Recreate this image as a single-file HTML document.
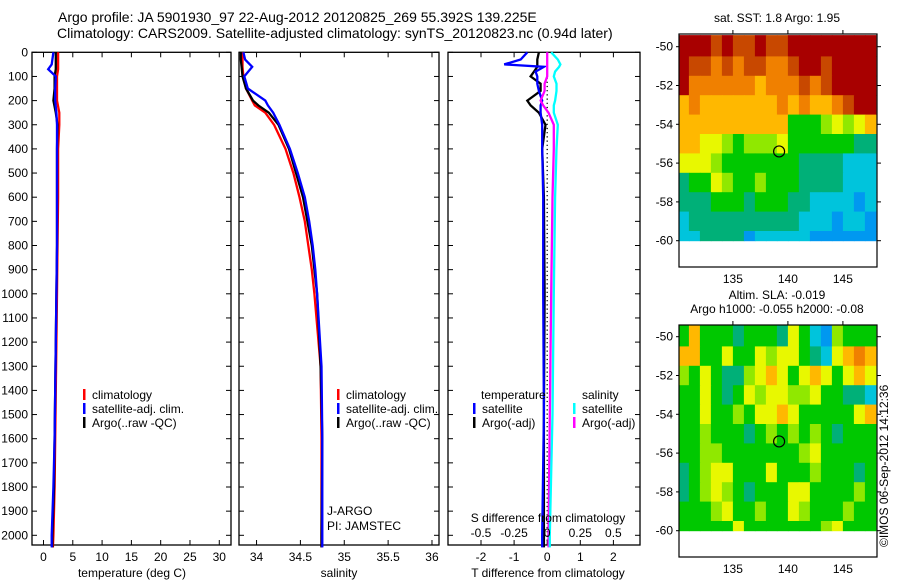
<!DOCTYPE html>
<html><head><meta charset="utf-8"><style>
html,body{margin:0;padding:0;background:#fff;}
svg{display:block;font-family:"Liberation Sans",sans-serif;}
</style></head><body>
<svg id="fig" width="900" height="580" viewBox="0 0 900 580" xmlns="http://www.w3.org/2000/svg">
<text x="58" y="22" font-size="14">Argo profile: JA 5901930_97 22-Aug-2012 20120825_269 55.392S 139.225E</text>
<text x="57" y="38" font-size="14">Climatology: CARS2009. Satellite-adjusted climatology: synTS_20120823.nc (0.94d later)</text>
<text x="777" y="22" font-size="12" text-anchor="middle">sat. SST: 1.8 Argo: 1.95</text>
<text x="777" y="299" font-size="12" text-anchor="middle">Altim. SLA: -0.019</text>
<text x="777" y="313" font-size="12" text-anchor="middle">Argo h1000: -0.055 h2000: -0.08</text>
<text transform="translate(888,547) rotate(-90)" font-size="12">©IMOS 06-Sep-2012 14:12:36</text>
<g id="plots"></g>
</svg>
<script>
// ---- profile data ----
const tDepths = [0,50,70,100,150,200,250,300,400,600,800,1000,1200,1400,1600,1800,2000,2050];
const tempClim = [2.5,2.5,2.5,2.3,2.3,2.3,2.7,2.7,2.5,2.5,2.4,2.3,2.2,2.1,2.0,1.9,1.7,1.6];
const tempSat  = [1.7,1.4,0.8,2.1,2.0,2.0,2.2,2.3,2.3,2.3,2.3,2.2,2.1,2.0,1.9,1.7,1.4,1.4];
const tempArgo = [2.1,2.1,2.1,1.9,1.9,1.7,2.1,2.4,2.3,2.3,2.3,2.2,2.1,2.0,1.9,1.8,1.5,1.5];
const sDepths = [0,30,60,100,150,200,220,250,300,400,500,600,700,800,900,1000,1300,1600,2000,2050];
const salClim = [33.84,33.84,33.84,33.85,33.88,33.95,33.98,34.1,34.2,34.33,34.42,34.49,34.55,34.59,34.63,34.66,34.73,34.74,34.74,34.74];
const salSat  = [33.85,33.87,33.95,33.86,33.9,34.1,34.13,34.19,34.26,34.38,34.47,34.55,34.6,34.64,34.67,34.69,34.74,34.75,34.75,34.75];
const salArgo = [33.82,33.82,33.83,33.84,33.88,33.96,34.02,34.14,34.25,34.37,34.45,34.53,34.58,34.63,34.66,34.69,34.73,34.75,34.74,34.74];
const dDepths = [0,30,50,60,80,100,130,160,200,220,250,300,400,600,1000,1500,2000,2050];
const dTSat  = [-0.6,-0.8,-1.3,-0.1,-0.35,-0.3,-0.3,-0.25,-0.15,-0.2,-0.2,-0.15,-0.15,-0.12,-0.12,-0.1,-0.15,-0.15];
const dTArgo = [-0.25,-0.3,-0.3,-0.3,-0.4,-0.5,-0.2,-0.2,-0.6,-0.5,-0.25,-0.05,-0.15,-0.1,-0.08,-0.1,-0.1,-0.1];
const dSSat  = [0.03,0.08,0.1,0.09,0.06,0.05,0.07,0.07,0.06,0.05,0.05,0.08,0.07,0.06,0.05,0.04,0.02,0.02];
const dSArgo = [0,0,0,0,0,0,-0.02,-0.02,-0.05,-0.03,0.01,0.05,0.05,0.04,0.03,0.02,0.01,0.01];
const depthTicks = [0,100,200,300,400,500,600,700,800,900,1000,1100,1200,1300,1400,1500,1600,1700,1800,1900,2000];
const tempTicks = [0,5,10,15,20,25,30];
const salTicks = [34,34.5,35,35.5,36];
const tdTicks = [-2,-1,0,1,2];
const sdTicks = [-0.5,-0.25,0,0.25,0.5];
// ---- map data ----
const mapLons = [130,131,132,133,134,135,136,137,138,139,140,141,142,143,144,145,146,147];
const mapLats = [-49.4,-50.5,-51.5,-52.5,-53.5,-54.5,-55.5,-56.5,-57.5,-58.5,-59.5];
const sstGrid = [
[9,9,9,8,9,8,8,9,8,8,9,9,9,9,9,9,9,9],
[9,8,8,7,8,7,8,8,7,7,8,9,9,8,9,9,9,9],
[9,7,7,7,7,7,7,6,7,7,7,8,7,8,9,9,9,9],
[6,7,6,6,6,6,6,6,6,7,6,7,6,6,7,8,9,9],
[6,6,6,6,6,6,6,6,6,6,3,3,3,4,5,4,5,6],
[6,6,5,5,4,3,4,4,4,5,3,3,3,3,3,3,2,2],
[5,5,5,4,3,3,3,3,3,3,3,2,2,2,2,1,1,1],
[2,3,3,5,4,3,3,4,3,3,3,2,2,2,2,1,1,1],
[2,2,2,3,3,3,2,3,3,3,2,2,1,1,1,1,0,1],
[1,2,2,2,2,2,2,2,2,2,2,1,1,1,0,1,1,0],
[1,1,2,2,2,2,0,1,1,1,1,1,0,0,0,0,0,0]];
const slaGrid = [
[3,6,3,3,3,2,3,3,3,2,5,3,1,0,4,3,3,3],
[6,6,3,3,5,3,3,5,4,5,5,3,2,1,5,6,7,6],
[4,3,5,3,2,2,4,5,6,5,3,5,6,5,3,5,6,5],
[3,3,5,3,2,3,5,4,5,5,4,4,5,3,3,2,2,1],
[3,3,5,3,3,4,3,5,5,6,5,3,3,3,3,3,5,6],
[3,3,4,3,3,3,2,3,4,3,4,3,4,3,2,3,3,3],
[3,3,4,4,3,3,3,3,3,3,3,4,5,3,3,3,3,3],
[2,3,4,5,5,3,3,3,5,3,3,3,4,3,3,3,2,3],
[2,3,4,5,4,3,2,3,3,3,5,5,3,3,3,3,4,3],
[3,3,3,4,5,3,3,4,3,3,5,4,3,3,3,4,3,3],
[3,3,3,3,3,5,3,3,3,3,3,3,3,4,5,3,3,3]];
const mapLonTicks = [135,140,145];
const mapLatTicks = [-50,-52,-54,-56,-58,-60];
const palette = ['#0098f0','#00c4dc','#00b078','#00c800','#90e800','#e8f800','#ffb800','#f08000','#c84800','#a80000'];
const argoPos = [139.2,-55.4];

const NS='http://www.w3.org/2000/svg';
const root=document.getElementById('plots');
function mk(tag,attrs,parent){const e=document.createElementNS(NS,tag);for(const k in attrs)e.setAttribute(k,attrs[k]);(parent||root).appendChild(e);return e;}
function txt(x,y,s,size,anchor,parent){const e=mk('text',{x:x,y:y,'font-size':size||12,'text-anchor':anchor||'start'},parent);e.textContent=s;return e;}

const PT=52.3, PB=545, DPX=0.2415;
const yD=d=>PT+d*DPX;
function panel(name,x0,x1,xmin,xmax){
  const g=mk('g',{});
  
  
  const r=mk('rect',{x:x0,y:PT,width:x1-x0,height:PB-PT,fill:'none',stroke:'#000','stroke-width':1.3},g);
  
  
  return {g:g,x:v=>x0+(v-xmin)/(xmax-xmin)*(x1-x0),x0:x0,x1:x1};
}
function line(p,vals,depths,color,name,w){
  const pts=vals.map((v,i)=>p.x(v).toFixed(1)+','+yD(depths[i]).toFixed(1)).join(' ');
  const e=mk('polyline',{points:pts,fill:'none',stroke:color,'stroke-width':w||2.3},p.g);
  
  
}
function xticks(p,ticks,fn,labelY){
  ticks.forEach(t=>{const x=fn(t);
    mk('line',{x1:x,x2:x,y1:PT,y2:PT+5,stroke:'#000'},p.g);
    mk('line',{x1:x,x2:x,y1:PB,y2:PB-5,stroke:'#000'},p.g);
    const l=txt(x,labelY,String(t),12,'middle',p.g);
    
    
  });
}
function yticks(p,labels){
  depthTicks.forEach(d=>{const y=yD(d);
    mk('line',{x1:p.x0,x2:p.x0+5,y1:y,y2:y,stroke:'#000'},p.g);
    mk('line',{x1:p.x1,x2:p.x1-5,y1:y,y2:y,stroke:'#000'},p.g);
    if(labels){const l=txt(28,y+4,String(d),12,'end',p.g);
      
      }
  });
}
function legend(p,x,y,color,label){
  mk('rect',{x:x,y:y-7,width:2.5,height:11,fill:color},p.g);
  const l=txt(x+9,y+3,label,12,'start',p.g);
  
  
}

const p1=panel('temperature-panel',32,231,-1.96,32);
yticks(p1,true); xticks(p1,tempTicks,p1.x,561);
line(p1,tempClim,tDepths,'#ff0000','temp-climatology-line');
line(p1,tempArgo,tDepths,'#000000','temp-argo-line');
line(p1,tempSat,tDepths,'#0000ff','temp-satellite-line');
legend(p1,83,396,'#f00','climatology');legend(p1,83,410,'#00f','satellite-adj. clim.');legend(p1,83,424,'#000','Argo(..raw -QC)');
let t=txt(132,577,'temperature (deg C)',12,'middle',p1.g);

const p2=panel('salinity-panel',239,439,33.8,36.08);
yticks(p2,false); xticks(p2,salTicks,p2.x,561);
line(p2,salClim,sDepths,'#ff0000','sal-climatology-line');
line(p2,salArgo,sDepths,'#000000','sal-argo-line');
line(p2,salSat,sDepths,'#0000ff','sal-satellite-line');
legend(p2,337,396,'#f00','climatology');legend(p2,337,410,'#00f','satellite-adj. clim.');legend(p2,337,424,'#000','Argo(..raw -QC)');
t=txt(327,515,'J-ARGO',12,'start',p2.g);
t=txt(327,530,'PI: JAMSTEC',12,'start',p2.g);
t=txt(339,577,'salinity',12,'middle',p2.g);

const p3=panel('difference-panel',448,640,-2.0-(481-448)/33.1,-2.0+(640-481)/33.1);
const sx=v=>p3.x(v*4);
yticks(p3,false); xticks(p3,tdTicks,p3.x,561);
mk('line',{x1:p3.x(0),x2:p3.x(0),y1:PT,y2:PB,stroke:'#000','stroke-dasharray':'1.2,3','stroke-width':1.3},p3.g);
line(p3,dTArgo,dDepths,'#000000','tdiff-argo-line');
line(p3,dTSat,dDepths,'#0000ff','tdiff-satellite-line');
line({g:p3.g,x:v=>sx(v)},dSArgo,dDepths,'#ff00ff','sdiff-argo-line');
line({g:p3.g,x:v=>sx(v)},dSSat,dDepths,'#00ffff','sdiff-satellite-line');
t=txt(481,399,'temperature',12,'start',p3.g);
t=txt(582,399,'salinity',12,'start',p3.g);
legend(p3,473,410,'#00f','satellite');legend(p3,473,424,'#000','Argo(-adj)');
legend(p3,573,410,'#0ff','satellite');legend(p3,573,424,'#f0f','Argo(-adj)');
t=txt(548,522,'S difference from climatology',12,'middle',p3.g);
sdTicks.forEach(v=>{const l=txt(sx(v),537,String(v),12,'middle',p3.g);});
t=txt(548,577,'T difference from climatology',12,'middle',p3.g);

function map(name,grid,top,bottom,latTop60){
  const g=mk('g',{});
  
  
  const X0=679,X1=877,lonMin=130.1,lonMax=148.1;
  const lx=v=>X0+(v-lonMin)/(lonMax-lonMin)*(X1-X0);
  const y50=latTop60[0], y60=latTop60[1];
  const ly=v=>y50+(-50-v)/10*(y60-y50);
  grid.forEach((row,i)=>row.forEach((c,j)=>{
    const latA=mapLats[i], latB=i+1<mapLats.length?mapLats[i+1]:-60;
    const xa=Math.max(X0,lx(mapLons[j])), xb=Math.min(X1,lx(mapLons[j]+1));
    const ya=Math.max(top,ly(latA)), yb=ly(latB);
    const r=mk('rect',{x:xa.toFixed(1),y:ya.toFixed(1),width:(xb-xa+0.5).toFixed(1),height:(yb-ya+0.5).toFixed(1),fill:palette[c]},g);
    
    
  }));
  const f=mk('rect',{x:X0,y:top,width:X1-X0,height:bottom-top,fill:'none',stroke:'#000','stroke-width':1.2},g);
  
  
  mapLonTicks.forEach(v=>{const x=lx(v);
    mk('line',{x1:x,x2:x,y1:top,y2:top-4,stroke:'#000'},g);
    const l=txt(x,bottom+16,String(v),12,'middle',g);});
  mapLatTicks.forEach(v=>{const y=ly(v);
    mk('line',{x1:X1,x2:X1+4,y1:y,y2:y,stroke:'#000'},g);
    mk('line',{x1:X0,x2:X0-3,y1:y,y2:y,stroke:'#000'},g);
    const l=txt(673,y+4,String(v),12,'end',g);});
  const c=mk('circle',{cx:lx(argoPos[0]),cy:ly(argoPos[1]),r:5.5,fill:'none',stroke:'#000','stroke-width':1.2},g);
  
  
}
map('sst-map',sstGrid,34,267,[46.7,240.7]);
map('sla-map',slaGrid,325,557,[336.7,530.7]);
</script>
</body></html>
